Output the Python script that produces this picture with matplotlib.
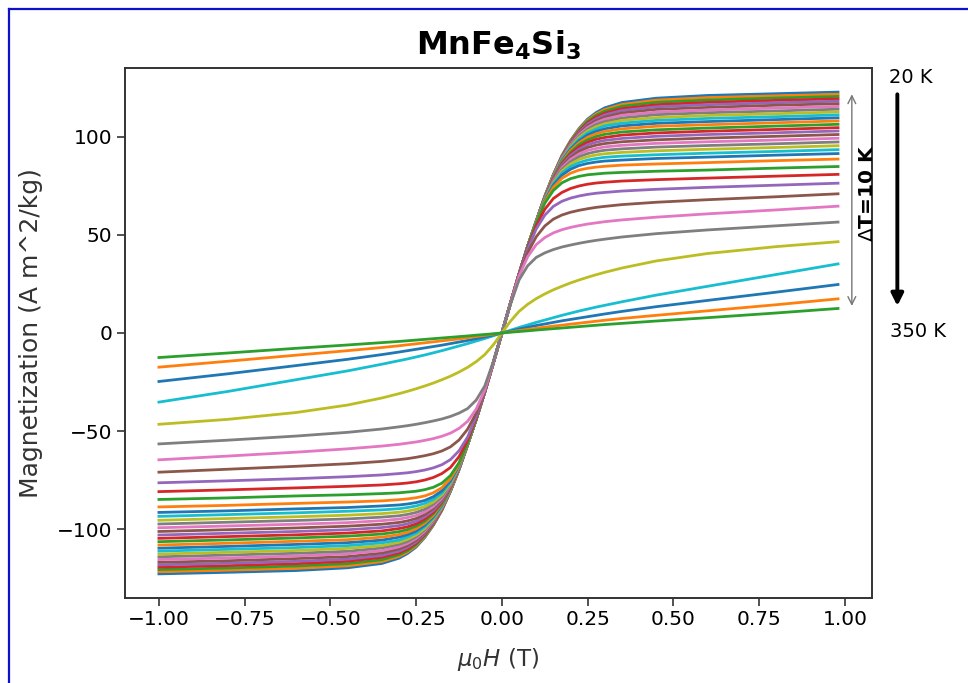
import numpy as np
import matplotlib.pyplot as plt
from matplotlib.lines import Line2D

# field steps of the sweep (T); the negative sweep starts at -1 T
field_up = [0.0, 0.025, 0.05, 0.075, 0.10, 0.125, 0.15, 0.175, 0.20, 0.225,
            0.25, 0.275, 0.30, 0.35, 0.45, 0.60, 0.80, 0.98]
field_down = [0.0, 0.025, 0.05, 0.075, 0.10, 0.125, 0.15, 0.175, 0.20, 0.225,
              0.25, 0.275, 0.30, 0.35, 0.45, 0.60, 0.80, 1.00]

# magnetization (A m^2/kg) at the non-zero field steps, one list per temperature
m_20K = [15.2, 30.0, 44.0, 56.9, 69.5, 80.6, 90.4, 98.0, 104.2, 109.0, 112.3, 114.7, 117.4, 119.6, 121.0, 121.9, 122.7]
m_30K = [15.2, 30.0, 44.0, 56.9, 69.5, 80.6, 90.2, 97.7, 103.8, 108.4, 111.6, 113.8, 116.4, 118.6, 119.9, 120.8, 121.6]
m_40K = [15.2, 30.0, 44.0, 56.9, 69.5, 80.5, 90.0, 97.4, 103.3, 107.8, 110.9, 113.0, 115.5, 117.5, 118.7, 119.7, 120.5]
m_50K = [15.2, 30.0, 44.0, 56.9, 69.4, 80.4, 89.8, 97.0, 102.7, 107.1, 110.0, 112.0, 114.3, 116.3, 117.5, 118.5, 119.3]
m_60K = [15.2, 30.0, 44.0, 56.9, 69.4, 80.3, 89.6, 96.7, 102.2, 106.4, 109.1, 111.1, 113.3, 115.2, 116.3, 117.3, 118.1]
m_70K = [15.2, 30.0, 44.0, 56.8, 69.4, 80.2, 89.4, 96.3, 101.6, 105.6, 108.2, 110.0, 112.1, 113.9, 114.9, 116.0, 116.8]
m_80K = [15.2, 30.0, 44.0, 56.8, 69.3, 80.0, 89.1, 95.8, 101.0, 104.7, 107.2, 108.9, 110.9, 112.5, 113.6, 114.6, 115.4]
m_90K = [15.2, 30.0, 44.0, 56.8, 69.3, 79.9, 88.8, 95.3, 100.3, 103.8, 106.2, 107.7, 109.5, 111.2, 112.2, 113.1, 114.0]
m_100K = [15.2, 30.0, 44.0, 56.8, 69.2, 79.8, 88.4, 94.8, 99.6, 102.9, 105.1, 106.6, 108.3, 109.7, 110.8, 111.7, 112.6]
m_110K = [15.2, 30.0, 44.0, 56.8, 69.1, 79.6, 88.1, 94.2, 98.7, 101.9, 103.9, 105.5, 106.9, 108.3, 109.3, 110.2, 111.1]
m_120K = [15.2, 30.0, 43.9, 56.8, 69.1, 79.4, 87.7, 93.6, 97.9, 100.9, 102.7, 104.0, 105.5, 106.8, 107.7, 108.7, 109.6]
m_130K = [15.2, 30.0, 43.9, 56.7, 69.0, 79.2, 87.2, 92.9, 96.9, 99.7, 101.5, 102.7, 104.0, 105.3, 106.1, 107.1, 108.0]
m_140K = [15.2, 30.0, 43.9, 56.7, 68.9, 78.9, 86.8, 92.0, 95.9, 98.4, 100.1, 101.2, 102.4, 103.5, 104.4, 105.4, 106.3]
m_150K = [15.2, 30.0, 43.9, 56.7, 68.8, 78.6, 86.2, 91.3, 94.8, 97.2, 98.7, 99.6, 100.8, 101.9, 102.8, 103.7, 104.6]
m_160K = [15.2, 30.0, 43.9, 56.7, 68.6, 78.3, 85.6, 90.4, 93.6, 95.9, 97.2, 98.1, 99.1, 100.2, 101.1, 102.0, 102.9]
m_170K = [15.2, 30.0, 43.9, 56.6, 68.5, 77.9, 84.9, 89.4, 92.5, 94.5, 95.7, 96.5, 97.4, 98.4, 99.3, 100.2, 101.1]
m_180K = [15.2, 30.0, 43.9, 56.6, 68.3, 77.5, 84.2, 88.4, 91.2, 93.0, 94.0, 94.8, 95.6, 96.6, 97.4, 98.3, 99.2]
m_190K = [15.2, 30.0, 43.9, 56.5, 68.1, 77.0, 83.4, 87.2, 89.8, 91.4, 92.4, 93.1, 93.8, 94.7, 95.5, 96.4, 97.3]
m_200K = [15.2, 30.0, 43.9, 56.5, 67.9, 76.5, 82.5, 86.1, 88.4, 89.8, 90.7, 91.3, 92.0, 92.8, 93.6, 94.5, 95.4]
m_210K = [15.2, 30.0, 43.9, 56.4, 67.6, 75.9, 81.5, 84.8, 86.8, 88.1, 88.9, 89.5, 90.1, 90.8, 91.6, 92.5, 93.4]
m_220K = [15.2, 30.0, 43.9, 56.3, 67.3, 75.3, 80.4, 83.4, 85.3, 86.4, 87.1, 87.6, 88.1, 88.9, 89.6, 90.6, 91.4]
m_230K = [15.2, 30.0, 43.8, 56.1, 66.9, 74.2, 78.8, 81.4, 83.0, 83.9, 84.5, 84.9, 85.5, 86.1, 86.8, 87.8, 88.6]
m_240K = [15.2, 30.0, 43.8, 55.9, 66.1, 72.6, 76.5, 78.6, 79.8, 80.6, 81.0, 81.4, 81.8, 82.4, 83.0, 84.0, 84.8]
m_250K = [15.2, 29.9, 43.3, 54.5, 63.0, 68.5, 71.6, 73.6, 74.9, 75.8, 76.4, 76.8, 77.4, 78.1, 78.9, 79.9, 80.8]
m_260K = [15.2, 29.8, 42.6, 53.0, 60.0, 64.5, 67.1, 68.7, 69.8, 70.6, 71.2, 71.6, 72.3, 73.2, 74.2, 75.3, 76.3]
m_270K = [15.1, 29.5, 40.8, 49.0, 54.5, 58.0, 60.1, 61.5, 62.5, 63.3, 64.0, 64.5, 65.4, 66.6, 67.9, 69.4, 70.9]
m_280K = [15.0, 29.0, 38.8, 45.0, 48.6, 51.0, 52.6, 53.8, 54.7, 55.5, 56.1, 56.7, 57.6, 59.0, 60.7, 62.7, 64.6]
m_290K = [14.6, 27.0, 34.2, 38.5, 40.8, 42.5, 43.8, 44.8, 45.7, 46.5, 47.2, 47.8, 48.9, 50.6, 52.5, 54.6, 56.5]
m_300K = [6.0, 11.0, 14.6, 17.5, 19.9, 22.0, 23.8, 25.5, 27.0, 28.4, 29.7, 30.9, 33.1, 36.7, 40.5, 44.0, 46.5]
m_310K = [1.4, 2.8, 4.1, 5.4, 6.6, 7.8, 9.0, 10.1, 11.2, 12.2, 13.2, 14.1, 15.9, 19.3, 23.8, 29.8, 35.2]
m_320K = [1.0, 2.0, 2.9, 3.8, 4.6, 5.4, 6.2, 6.9, 7.6, 8.3, 9.0, 9.7, 11.0, 13.4, 16.6, 20.8, 24.7]
m_330K = [0.6, 1.2, 1.8, 2.4, 3.0, 3.5, 4.0, 4.5, 5.0, 5.5, 6.0, 6.5, 7.4, 9.0, 11.3, 14.4, 17.4]
m_340K = [0.4, 0.75, 1.1, 1.5, 1.85, 2.2, 2.55, 2.9, 3.25, 3.6, 3.95, 4.3, 4.9, 6.1, 7.8, 10.2, 12.5]

curves = [m_20K, m_30K, m_40K, m_50K, m_60K, m_70K, m_80K, m_90K, m_100K,
          m_110K, m_120K, m_130K, m_140K, m_150K, m_160K, m_170K, m_180K,
          m_190K, m_200K, m_210K, m_220K, m_230K, m_240K, m_250K, m_260K,
          m_270K, m_280K, m_290K, m_300K, m_310K, m_320K, m_330K, m_340K]

fig = plt.figure(figsize=(9.68, 6.83), dpi=100)
ax = fig.add_axes([0.1291, 0.1245, 0.7717, 0.7759])

h_up = np.array(field_up)
h_down = np.array(field_down)
for m in curves:
    m = np.concatenate([[0.0], m])
    # full sweep: -1 T up to +0.98 T, odd in field
    h = np.concatenate([-h_down[::-1], h_up[1:]])
    mag = np.concatenate([-m[::-1], m[1:]])
    ax.plot(h, mag, linewidth=2.0)

ax.set_xticks([-1.0, -0.75, -0.5, -0.25, 0.0, 0.25, 0.5, 0.75, 1.0])
ax.set_yticks([-100, -50, 0, 50, 100])
ax.tick_params(labelsize=14.5, length=5.5, width=1.2, color='#333333')
for s in ax.spines.values():
    s.set_color('#333333')
    s.set_linewidth(1.4)

ax.set_xlabel(r'$\mu_0H$ (T)', fontsize=16.5, color='#333333', labelpad=12)
ax.set_ylabel('Magnetization (A m^2/kg)', fontsize=18, color='#333333', labelpad=10)
ax.set_title(r'MnFe$_\mathbf{4}$Si$_\mathbf{3}$', fontsize=23, fontweight='bold', pad=10)

# temperature step annotations at the right of the plot
fig.text(0.941, 0.886, '20 K', fontsize=14, ha='center', va='center')
fig.text(0.948, 0.514, '350 K', fontsize=14, ha='center', va='center')
ax.annotate('', xy=(0.927, 0.548), xytext=(0.927, 0.866), xycoords='figure fraction',
            arrowprops=dict(arrowstyle='-|>', color='black', lw=2.8, mutation_scale=18))
ax.annotate('', xy=(0.880, 0.548), xytext=(0.880, 0.866), xycoords='figure fraction',
            arrowprops=dict(arrowstyle='<->', color='#777777', lw=1.0, mutation_scale=14))
fig.text(0.896, 0.717, r'$\Delta$T=10 K', fontsize=14.5, fontweight='bold', rotation=90,
         ha='center', va='center')

# blue frame on the left and top edges
fig.add_artist(Line2D([9 / 968, 9 / 968], [0, 1 - 9 / 683], color='#1010c8', lw=1.6))
fig.add_artist(Line2D([9 / 968, 1], [1 - 9 / 683, 1 - 9 / 683], color='#1010c8', lw=1.6))

fig.savefig('out.png', dpi=100)
